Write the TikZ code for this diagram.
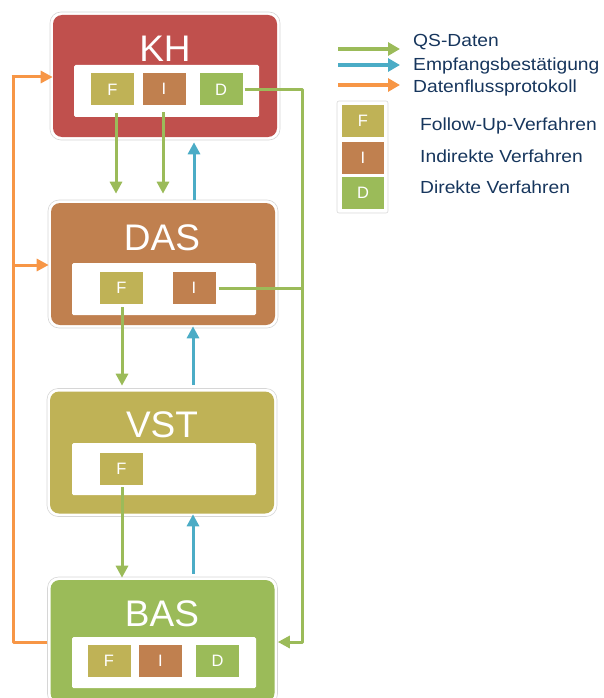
\documentclass[tikz,border=0pt]{standalone}
\usepackage{fontspec}
\setmainfont{Liberation Sans}
\newfontfamily\legfont[FakeStretch=1.1]{Liberation Sans}
\usetikzlibrary{arrows.meta,calc}
\definecolor{khred}{HTML}{C0504D}
\definecolor{ibrown}{HTML}{C0804F}
\definecolor{folive}{HTML}{BFB256}
\definecolor{dgreen}{HTML}{9BBB59}
\definecolor{ackblue}{HTML}{4BACC6}
\definecolor{dfporange}{HTML}{F79646}
\definecolor{navy}{HTML}{17365D}
\begin{document}
\begin{tikzpicture}[x=1pt,y=-1pt,
  frame/.style={draw=black!16, fill=white, line width=0.6pt, rounded corners=11pt, inner sep=0pt, minimum width=230pt, minimum height=128pt},
  bigbox/.style={rounded corners=9pt, inner sep=0pt, minimum width=224pt, minimum height=122pt},
  panel/.style={fill=white, rounded corners=1.5pt, inner sep=0pt, minimum height=52pt, minimum width=184pt},
  mbox/.style={minimum width=43pt, minimum height=32pt, inner sep=0pt, text=white, font=\fontsize{16.5}{16.5}\selectfont},
  title/.style={text=white, font=\fontsize{37}{37}\selectfont, anchor=base, inner sep=0pt},
  qs/.style={draw=dgreen, line width=3pt, line join=round, -{Triangle[width=12pt,length=12pt]}},
  qsline/.style={draw=dgreen, line width=3pt},
  ack/.style={draw=ackblue, line width=3pt, -{Triangle[width=12pt,length=12pt]}},
  dfp/.style={draw=dfporange, line width=3pt, line join=round, -{Triangle[width=12pt,length=12pt]}},
  dfpline/.style={draw=dfporange, line width=3pt, line join=round},
  leg/.style={text=navy, font=\legfont\fontsize{17.5}{17.5}\selectfont, anchor=base west, inner sep=0pt},
  legarrow/.style={line width=3.5pt, -{Triangle[width=13pt,length=12pt]}}
]
\useasboundingbox (0,0) rectangle (604,698);

% ---- KH ----
\node[frame] (khf) at (165,76) {};
\node[bigbox, fill=khred] (kh) at (165,76) {};
\node[title] (khT) at (165,62) {KH};
\node[panel, minimum width=185pt] (khP) at (166.5,91) {};
\node[mbox, fill=folive] (khF) at (112.5,89.5) {F};
\node[mbox, fill=ibrown] (khI) at (164,89) {I};
\node[mbox, fill=dgreen] (khD) at (221,89.5) {D};

% ---- DAS ----
\node[frame] (dasf) at (163,264) {};
\node[bigbox, fill=ibrown] (das) at (163,264) {};
\node[title] (dasT) at (162,250) {DAS};
\node[panel] (dasP) at (164,289) {};
\node[mbox, fill=folive] (dasF) at (121.5,287.5) {F};
\node[mbox, fill=ibrown] (dasI) at (194,287.5) {I};

% ---- VST ----
\node[frame] (vstf) at (162,452.5) {};
\node[bigbox, fill=folive] (vst) at (162,452.5) {};
\node[title] (vstT) at (162,437) {VST};
\node[panel] (vstP) at (164,469) {};
\node[mbox, fill=folive] (vstF) at (121.5,468.5) {F};

% ---- BAS ----
\node[frame] (basf) at (162.5,641) {};
\node[bigbox, fill=dgreen] (bas) at (162.5,641) {};
\node[title] (basT) at (162,626) {BAS};
\node[panel, minimum height=51pt] (basP) at (164,662.5) {};
\node[mbox, fill=folive] (basF) at (109,661) {F};
\node[mbox, fill=ibrown] (basI) at (160.5,661) {I};
\node[mbox, fill=dgreen] (basD) at (217.5,661) {D};

% ---- vertical flows ----
\draw[qs] ($(khF.south)+(3.5,7)$) -- ($(khF.south |- dasf.north)+(3.5,-6)$);
\draw[qs] ($(khI.south)+(-1,7)$) -- ($(khI.south |- dasf.north)+(-1,-6)$);
\draw[ack] ($(dasf.north)+(31,0)$) -- ($(khf.south)+(29,2)$);

\draw[qs] ($(dasF.south)+(0.5,3.5)$) -- ($(dasF.south |- vstf.north)+(0.5,-2.5)$);
\draw[ack] ($(vstf.north)+(31,-3)$) -- ($(dasf.south)+(30,-2)$);

\draw[qs] ($(vstF.south)+(0.5,2.5)$) -- ($(vstF.south |- basf.north)+(0.5,1)$);
\draw[ack] ($(basf.north)+(30.5,-3)$) -- ($(vstf.south)+(31,-2.5)$);

% ---- D / I line on right ----
\coordinate (dR) at (302,642);
\draw[qs] ($(khD.east)+(2,0.5)$) -| (dR) -- (basf.east |- dR);
\draw[qsline] ($(dasI.east)+(3,0.5)$) -- ($(dasI.east -| dR)+(0,0.5)$);

% ---- orange protocol line ----
\coordinate (oB) at (13,642);
\coordinate (oT) at (13,77);
\coordinate (oM) at (13,265);
\draw[dfpline] (basf.west |- oB) -- (oB) -- (oT);
\draw[dfp] ($(oT)+(-1.5,0)$) -- ($(khf.west |- oT)+(3,0)$);
\draw[dfp] (oM) -- ($(dasf.west |- oM)+(1,0)$);

% ---- legend ----
\coordinate (lg1a) at (338,49);  \coordinate (lg1b) at (400,49);
\coordinate (lg2a) at (338,65);  \coordinate (lg2b) at (400,65);
\coordinate (lg3a) at (338,85);  \coordinate (lg3b) at (400,85);
\draw[legarrow, draw=dgreen] (lg1a) -- (lg1b);
\draw[legarrow, draw=ackblue] (lg2a) -- (lg2b);
\draw[legarrow, draw=dfporange] (lg3a) -- (lg3b);
\node[leg] (l1) at (413,47) {QS-Daten};
\node[leg] (l2) at (413,70.5) {Empfangsbestätigung};
\node[leg] (l3) at (413,92.5) {Datenflussprotokoll};

\node[draw=black!15, fill=white, line width=0.6pt, rounded corners=2pt, minimum width=51pt, minimum height=112pt, inner sep=0pt] (legbox) at (362.5,157) {};
\node[mbox, minimum width=42pt, fill=folive] (legF) at (363,121) {F};
\node[mbox, minimum width=42pt, fill=ibrown] (legI) at (363,157.5) {I};
\node[mbox, minimum width=42pt, fill=dgreen] (legD) at (363,193) {D};
\node[leg] (l4) at (420,130) {Follow-Up-Verfahren};
\node[leg] (l5) at (420,162.5) {Indirekte Verfahren};
\node[leg] (l6) at (420,193) {Direkte Verfahren};
\end{tikzpicture}
\end{document}
